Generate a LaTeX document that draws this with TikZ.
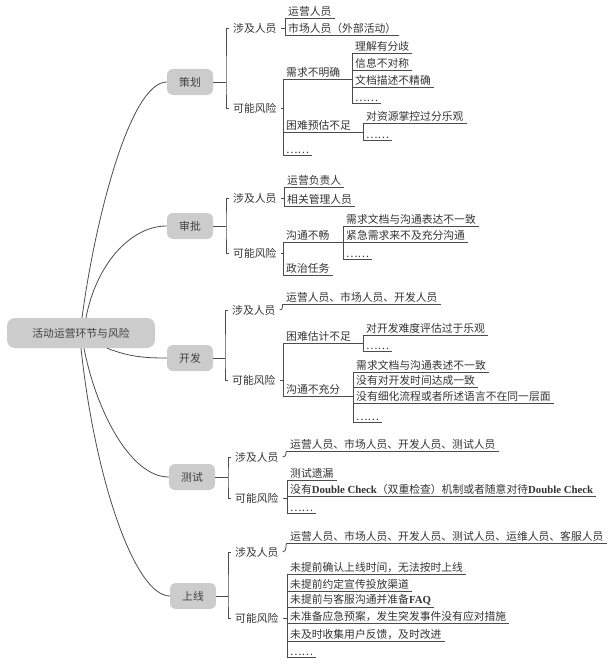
\documentclass[tikz,border=0pt]{standalone}
\usepackage{fontspec}
\setmainfont{Liberation Serif}
\newfontfamily\cjk{Noto Sans CJK SC}
\newcommand{\itemfont}{\cjk\fontsize{10.8}{12}\selectfont}
\newcommand{\dblchk}{{\rmfamily\bfseries Double Check}}
\newcommand{\faq}{{\rmfamily\bfseries FAQ}}
\tikzset{
  conn/.style={draw=black!70, line width=0.8pt},
  topic/.style={fill=gray!40, rounded corners=6pt, font=\itemfont, text=black!75,
    minimum width=46pt, minimum height=26pt, inner sep=2pt},
  sub/.style={anchor=west, font=\itemfont, text=black!80, inner xsep=4pt, inner ysep=1pt},
  leaf/.style={anchor=south west, font=\itemfont, text=black!80, inner xsep=3pt, inner ysep=1.5pt,
    append after command={(\tikzlastnode.south west) edge[conn] (\tikzlastnode.south east)}}
}
\begin{document}
\begin{tikzpicture}[x=1pt,y=-1pt]
    \useasboundingbox (0,0) rectangle (613,669);
    \node[topic, minimum width=148pt, minimum height=30pt, rounded corners=8pt] (root) at (81,333) {活动运营环节与风险};
    \node[topic] (ch) at (190,82) {策划};
    \node[topic] (sp) at (190,226) {审批};
    \node[topic] (kf) at (190,358) {开发};
    \node[topic] (cs) at (192,477) {测试};
    \node[topic] (sx) at (193,596) {上线};
    \draw[conn] ([xshift=1pt]root.north) .. controls (95,220) and (130,82) .. (ch.west);
    \draw[conn] ([xshift=5pt]root.north) .. controls (96,265) and (130,226) .. (sp.west);
    \draw[conn] ([xshift=26pt]root.south) .. controls (130,357) and (145,358) .. (kf.west);
    \draw[conn] ([xshift=3pt]root.south) .. controls (96,410) and (130,477) .. (cs.west);
    \draw[conn] ([xshift=0pt]root.south) .. controls (95,480) and (135,596) .. (sx.west);

    \coordinate (chb) at (226,82);
    \node[sub] (ch1) at (229,28) {涉及人员};
    \node[sub] (ch2) at (229,108) {可能风险};
    \node[leaf] (ch11) at (285,18) {运营人员};
    \node[leaf] (ch12) at (285,35) {市场人员（外部活动）};
    \node[leaf] (ch21) at (283,79) {需求不明确};
    \node[leaf] (ch22) at (283,132) {困难预估不足};
    \node[leaf] (ch23) at (283,155) {……};
    \node[leaf] (ch211) at (352,53) {理解有分歧};
    \node[leaf] (ch212) at (352,70) {信息不对称};
    \node[leaf] (ch213) at (352,87) {文档描述不精确};
    \node[leaf] (ch214) at (352,103) {……};
    \node[leaf] (ch221) at (363,123) {对资源掌控过分乐观};
    \node[leaf] (ch222) at (363,140) {……};
    \draw[conn] (ch.east) -- (chb);
    \draw[conn] (ch1.west) -| (chb) |- (ch2.west);
    \draw[conn] (ch1.east) -- (ch1.east -| ch11.south west);
    \draw[conn] (ch11.south west) -- (ch12.south west);
    \draw[conn] (ch2.east) -- (ch2.east -| ch21.south west);
    \draw[conn] (ch21.south west) -- (ch23.south west);
    \draw[conn] (ch21.south west) -- (ch21.south west -| ch211.south west);
    \draw[conn] (ch211.south west) -- (ch214.south west);
    \draw[conn] (ch22.south west) -- (ch22.south west -| ch221.south west);
    \draw[conn] (ch221.south west) -- (ch222.south west);

    \coordinate (spb) at (226,226);
    \node[sub] (sp1) at (229,198) {涉及人员};
    \node[sub] (sp2) at (229,253) {可能风险};
    \node[leaf] (sp11) at (284,187) {运营负责人};
    \node[leaf] (sp12) at (284,206) {相关管理人员};
    \node[leaf] (sp21) at (283,242) {沟通不畅};
    \node[leaf] (sp22) at (283,275) {政治任务};
    \node[leaf] (sp211) at (343,226) {需求文档与沟通表达不一致};
    \node[leaf] (sp212) at (343,242) {紧急需求来不及充分沟通};
    \node[leaf] (sp213) at (343,259) {……};
    \draw[conn] (sp.east) -- (spb);
    \draw[conn] (sp1.west) -| (spb) |- (sp2.west);
    \draw[conn] (sp1.east) -- (sp1.east -| sp11.south west);
    \draw[conn] (sp11.south west) -- (sp12.south west);
    \draw[conn] (sp2.east) -- (sp2.east -| sp21.south west);
    \draw[conn] (sp21.south west) -- (sp22.south west);
    \draw[conn] (sp21.south west) -- (sp21.south west -| sp211.south west);
    \draw[conn] (sp211.south west) -- (sp213.south west);

    \coordinate (kfb) at (225,358);
    \node[sub] (kf1) at (228,310) {涉及人员};
    \node[sub] (kf2) at (228,380) {可能风险};
    \node[leaf] (kf11) at (283,304) {运营人员、市场人员、开发人员};
    \node[leaf] (kf21) at (283,343) {困难估计不足};
    \node[leaf] (kf22) at (283,396) {沟通不充分};
    \node[leaf] (kf211) at (363,335) {对开发难度评估过于乐观};
    \node[leaf] (kf212) at (363,351) {……};
    \node[leaf] (kf221) at (353,372) {需求文档与沟通表述不一致};
    \node[leaf] (kf222) at (353,387) {没有对开发时间达成一致};
    \node[leaf] (kf223) at (353,403) {没有细化流程或者所述语言不在同一层面};
    \node[leaf] (kf224) at (353,422) {……};
    \draw[conn] (kf.east) -- (kfb);
    \draw[conn] (kf1.west) -| (kfb) |- (kf2.west);
    \draw[conn] (kf1.east) .. controls +(5,0) and +(-2,0) .. (kf11.south west);
    \draw[conn] (kf2.east) -- (kf2.east -| kf21.south west);
    \draw[conn] (kf21.south west) -- (kf22.south west);
    \draw[conn] (kf21.south west) -- (kf21.south west -| kf211.south west);
    \draw[conn] (kf211.south west) -- (kf212.south west);
    \draw[conn] (kf22.south west) -- (kf22.south west -| kf221.south west);
    \draw[conn] (kf221.south west) -- (kf224.south west);

    \coordinate (csb) at (228,477);
    \node[sub] (cs1) at (231,457) {涉及人员};
    \node[sub] (cs2) at (231,498) {可能风险};
    \node[leaf] (cs11) at (287,451) {运营人员、市场人员、开发人员、测试人员};
    \node[leaf] (cs21) at (287,480) {测试遗漏};
    \node[leaf] (cs22) at (287,496) {没有\dblchk（双重检查）机制或者随意对待\dblchk};
    \node[leaf] (cs23) at (287,513) {……};
    \draw[conn] (cs.east) -- (csb);
    \draw[conn] (cs1.west) -| (csb) |- (cs2.west);
    \draw[conn] (cs1.east) .. controls +(5,0) and +(-2,0) .. (cs11.south west);
    \draw[conn] (cs21.south west) -- (cs23.south west);
    \draw[conn] (cs2.east) -- (cs2.east -| cs21.south west);

    \coordinate (sxb) at (228,596);
    \node[sub] (sx1) at (231,552) {涉及人员};
    \node[sub] (sx2) at (231,618) {可能风险};
    \node[leaf] (sx11) at (287,543) {运营人员、市场人员、开发人员、测试人员、运维人员、客服人员};
    \node[leaf] (sx21) at (287,574) {未提前确认上线时间，无法按时上线};
    \node[leaf] (sx22) at (287,591) {未提前约定宣传投放渠道};
    \node[leaf] (sx23) at (287,607) {未提前与客服沟通并准备\faq};
    \node[leaf] (sx24) at (287,623) {未准备应急预案，发生突发事件没有应对措施};
    \node[leaf] (sx25) at (287,641) {未及时收集用户反馈，及时改进};
    \node[leaf] (sx26) at (287,657) {……};
    \draw[conn] (sx.east) -- (sxb);
    \draw[conn] (sx1.west) -| (sxb) |- (sx2.west);
    \draw[conn] (sx1.east) .. controls +(5,0) and +(-2,0) .. (sx11.south west);
    \draw[conn] (sx21.south west) -- (sx26.south west);
    \draw[conn] (sx2.east) -- (sx2.east -| sx21.south west);
\end{tikzpicture}
\end{document}
